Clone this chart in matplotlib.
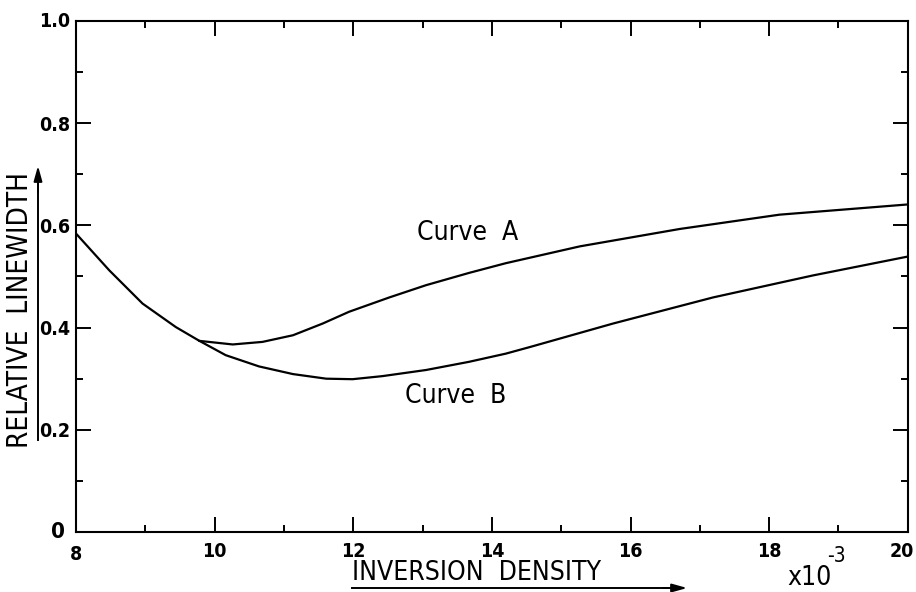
import matplotlib.pyplot as plt
import matplotlib.transforms as mtransforms
from matplotlib.ticker import MultipleLocator

# inversion density (x 10^-3) and relative linewidth
density_b = [8.0, 8.48, 8.96, 9.44, 9.78, 10.16, 10.64, 11.13, 11.61, 11.99,
             12.42, 13.05, 13.67, 14.2, 14.55, 15.75, 17.19, 18.63, 20.0]
width_b = [0.584, 0.512, 0.447, 0.401, 0.374, 0.346, 0.324, 0.309, 0.300, 0.299,
           0.305, 0.317, 0.333, 0.349, 0.362, 0.408, 0.459, 0.502, 0.539]

density_a = [9.78, 10.26, 10.69, 11.13, 11.56, 11.94, 12.52, 13.05, 13.67,
             14.2, 15.27, 16.71, 18.15, 20.0]
width_a = [0.374, 0.367, 0.372, 0.385, 0.408, 0.431, 0.459, 0.483, 0.507,
           0.526, 0.559, 0.593, 0.621, 0.641]

x_ticks = [10, 12, 14, 16, 18, 20]
y_ticks = [0.2, 0.4, 0.6, 0.8]
y_tick_labels = ["0.2", "0.4", "0.6", "0.8"]

FONT = ["DejaVu Sans"]
STRETCH = "condensed"

fig = plt.figure(figsize=(9.16, 5.92), dpi=100)
ax = fig.add_axes([0.083, 0.1014, 0.908, 0.8631])

ax.plot(density_b, width_b, color="black", lw=1.6)
ax.plot(density_a, width_a, color="black", lw=1.6)

ax.set_xlim(8, 20)
ax.set_ylim(0, 1.0)

for s in ax.spines.values():
    s.set_linewidth(1.5)

ax.set_xticks(x_ticks)
ax.set_xticklabels([str(v) for v in x_ticks])
ax.set_yticks(y_ticks)
ax.set_yticklabels(y_tick_labels)
ax.xaxis.set_minor_locator(MultipleLocator(1))
ax.yaxis.set_minor_locator(MultipleLocator(0.1))
ax.tick_params(which="both", direction="in", top=True, right=True, width=1.4)
ax.tick_params(which="major", length=11, labelsize=14, pad=4)
ax.tick_params(axis="x", which="major", pad=7)
ax.tick_params(which="minor", length=5)
for lab in ax.get_xticklabels() + ax.get_yticklabels():
    lab.set_family(FONT)
    lab.set_fontstretch(STRETCH)
    lab.set_fontweight("bold")
# keep the last x label inside the figure
last = ax.get_xticklabels()[-1]
last.set_transform(last.get_transform() +
                   mtransforms.ScaledTranslation(-6 / 100, 0, fig.dpi_scale_trans))

# corner labels
ax.text(-0.007, 1.0, "1.0", transform=ax.transAxes, ha="right", va="center",
        fontsize=14, fontweight="bold", family=FONT, fontstretch=STRETCH)
ax.text(-0.013, 0.0, "0", transform=ax.transAxes, ha="right", va="center",
        fontsize=16, fontweight="bold", family=FONT, fontstretch=STRETCH)
ax.text(0.0, -0.045, "8", transform=ax.transAxes, ha="center", va="center",
        fontsize=14, fontweight="bold", family=FONT, fontstretch=STRETCH)

# curve labels
ax.text(13.65, 0.586, "Curve  A", ha="center", va="center", fontsize=19,
        family=FONT, fontstretch=STRETCH)
ax.text(13.47, 0.266, "Curve  B", ha="center", va="center", fontsize=19,
        family=FONT, fontstretch=STRETCH)

# x axis title with arrow underline
fig.text(352 / 916, 1 - 573 / 592, "INVERSION  DENSITY", ha="left", va="center",
         fontsize=19, family=FONT, fontstretch=STRETCH)
fig.add_artist(plt.Line2D([352 / 916, 680 / 916], [1 - 588 / 592] * 2,
                          color="black", lw=1.4))
ax.annotate("", xy=(690 / 916, 1 - 588 / 592), xytext=(660 / 916, 1 - 588 / 592),
            xycoords="figure fraction",
            arrowprops=dict(arrowstyle="-|>,head_length=0.9,head_width=0.25",
                            color="black", lw=1.4))
fig.text(810 / 916, 1 - 578 / 592, "x10", ha="center", va="center",
         fontsize=19, family=FONT, fontstretch=STRETCH)
fig.text(836 / 916, 1 - 556 / 592, "-3", ha="center", va="center",
         fontsize=15, family=FONT, fontstretch=STRETCH)

# y axis title with arrow underline
fig.text(20 / 916, 1 - 310 / 592, "RELATIVE  LINEWIDTH", rotation=90,
         ha="center", va="center", fontsize=20, family=FONT, fontstretch=STRETCH)
fig.add_artist(plt.Line2D([38 / 916] * 2, [1 - 440 / 592, 1 - 180 / 592],
                          color="black", lw=1.4))
ax.annotate("", xy=(38 / 916, 1 - 163 / 592), xytext=(38 / 916, 1 - 195 / 592),
            xycoords="figure fraction",
            arrowprops=dict(arrowstyle="-|>,head_length=0.9,head_width=0.25",
                            color="black", lw=1.4))

fig.savefig("out.png", dpi=100)
